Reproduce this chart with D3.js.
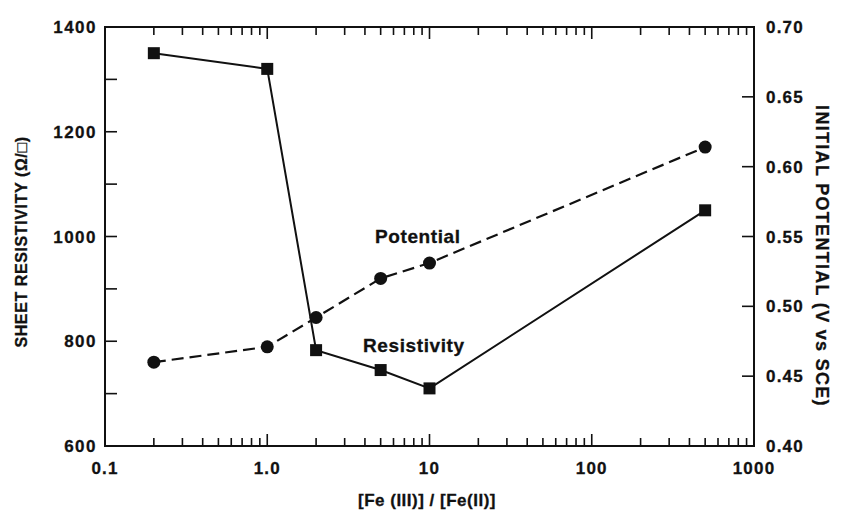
<!DOCTYPE html>
<html>
<head>
<meta charset="utf-8">
<style>
body { margin: 0; background: #fff; }
svg text { font-family: "Liberation Sans", Arial, sans-serif; font-weight: bold; fill: #111; stroke: #111; stroke-width: 0.3; }
</style>
</head>
<body>
<svg width="846" height="516"></svg>
<script src="https://cdn.jsdelivr.net/npm/d3@7"></script>
<script>
// values
var ratio = [0.2, 1, 2, 5, 10, 500];
var resistivity = [1350, 1320, 783, 745, 710, 1050];
var potential = [0.460, 0.471, 0.492, 0.520, 0.531, 0.614];

var xTicks = [0.1, 1, 10, 100, 1000];
var xTickLabels = ["0.1", "1.0", "10", "100", "1000"];
var leftTicks = [600, 800, 1000, 1200, 1400];
var rightTicks = [0.40, 0.45, 0.50, 0.55, 0.60, 0.65, 0.70];

var svg = d3.select("svg");
var L = 105, R = 754, T = 27, B = 446;

var x = d3.scaleLog().domain([0.1, 1000]).range([L, R]);
var yL = d3.scaleLinear().domain([600, 1400]).range([B, T]);
var yR = d3.scaleLinear().domain([0.40, 0.70]).range([B, T]);

// minor ticks 2..9 in each decade
var minor = [];
[0.1, 1, 10, 100].forEach(function(d) {
	for (var k = 2; k <= 9; k++) minor.push(d * k);
});

// frame
svg.append("rect")
  .attr("x", L).attr("y", T)
  .attr("width", R - L).attr("height", B - T)
  .attr("fill", "none").attr("stroke", "#111").attr("stroke-width", 2);

// x ticks (bottom and top, inward)
function xtick(vals, len) {
	svg.selectAll(null).data(vals).enter().append("line")
	  .attr("x1", function(d) { return x(d); }).attr("x2", function(d) { return x(d); })
	  .attr("y1", B).attr("y2", B - len)
	  .attr("stroke", "#111").attr("stroke-width", 1.6);
	svg.selectAll(null).data(vals).enter().append("line")
	  .attr("x1", function(d) { return x(d); }).attr("x2", function(d) { return x(d); })
	  .attr("y1", T).attr("y2", T + len)
	  .attr("stroke", "#111").attr("stroke-width", 1.6);
}
xtick(minor, 8);
xtick(xTicks, 12);

// left ticks every 100
svg.selectAll(null).data(d3.range(600, 1401, 100)).enter().append("line")
  .attr("x1", L).attr("x2", L + 12)
  .attr("y1", function(d) { return yL(d); }).attr("y2", function(d) { return yL(d); })
  .attr("stroke", "#111").attr("stroke-width", 1.6);

// right ticks every 0.05
svg.selectAll(null).data(rightTicks).enter().append("line")
  .attr("x1", R - 12).attr("x2", R)
  .attr("y1", function(d) { return yR(d); }).attr("y2", function(d) { return yR(d); })
  .attr("stroke", "#111").attr("stroke-width", 1.6);

// tick labels
svg.selectAll(null).data(leftTicks).enter().append("text")
  .attr("x", 97).attr("y", function(d) { return yL(d) + 6; })
  .attr("text-anchor", "end").attr("font-size", 17).attr("letter-spacing", 1.5)
  .text(function(d) { return d; });

svg.selectAll(null).data(rightTicks).enter().append("text")
  .attr("x", 766).attr("y", function(d) { return yR(d) + 6; })
  .attr("font-size", 17).attr("letter-spacing", 1.2)
  .text(function(d) { return d.toFixed(2); });

svg.selectAll(null).data(xTicks).enter().append("text")
  .attr("x", function(d) { return x(d); }).attr("y", 474)
  .attr("text-anchor", "middle").attr("font-size", 17).attr("letter-spacing", 1.2)
  .text(function(d, i) { return xTickLabels[i]; });

// axis titles
svg.append("text")
  .attr("transform", "translate(27,242) rotate(-90)")
  .attr("text-anchor", "middle").attr("font-size", 16).attr("letter-spacing", 0.6)
  .text("SHEET RESISTIVITY (\u03A9/\u25A1)");

svg.append("text")
  .attr("transform", "translate(816,256) rotate(90)")
  .attr("text-anchor", "middle").attr("font-size", 18).attr("letter-spacing", 1.3)
  .text("INITIAL POTENTIAL (V vs SCE)");

svg.append("text")
  .attr("x", 427).attr("y", 506)
  .attr("text-anchor", "middle").attr("font-size", 17).attr("letter-spacing", 0.5)
  .text("[Fe (III)] / [Fe(II)]");

// resistivity: solid line with squares
var resLine = d3.line()
  .x(function(d, i) { return x(ratio[i]); })
  .y(function(d) { return yL(d); });

svg.append("path")
  .datum(resistivity)
  .attr("d", resLine)
  .attr("fill", "none").attr("stroke", "#111").attr("stroke-width", 2);

svg.selectAll(null).data(resistivity).enter().append("rect")
  .attr("x", function(d, i) { return x(ratio[i]) - 6; })
  .attr("y", function(d) { return yL(d) - 6; })
  .attr("width", 12).attr("height", 12)
  .attr("fill", "#111");

// potential: dashed line with circles
var potLine = d3.line()
  .x(function(d, i) { return x(ratio[i]); })
  .y(function(d) { return yR(d); });

svg.append("path")
  .datum(potential)
  .attr("d", potLine)
  .attr("fill", "none").attr("stroke", "#111").attr("stroke-width", 2.2)
  .attr("stroke-dasharray", "12,6");

svg.selectAll(null).data(potential).enter().append("circle")
  .attr("cx", function(d, i) { return x(ratio[i]); })
  .attr("cy", function(d) { return yR(d); })
  .attr("r", 6.5)
  .attr("fill", "#111");

// series labels
svg.append("text").attr("x", 375).attr("y", 243)
  .attr("font-size", 19).attr("letter-spacing", 0.6).text("Potential");
svg.append("text").attr("x", 363).attr("y", 352)
  .attr("font-size", 19).attr("letter-spacing", 0.6).text("Resistivity");
</script>
</body>
</html>
